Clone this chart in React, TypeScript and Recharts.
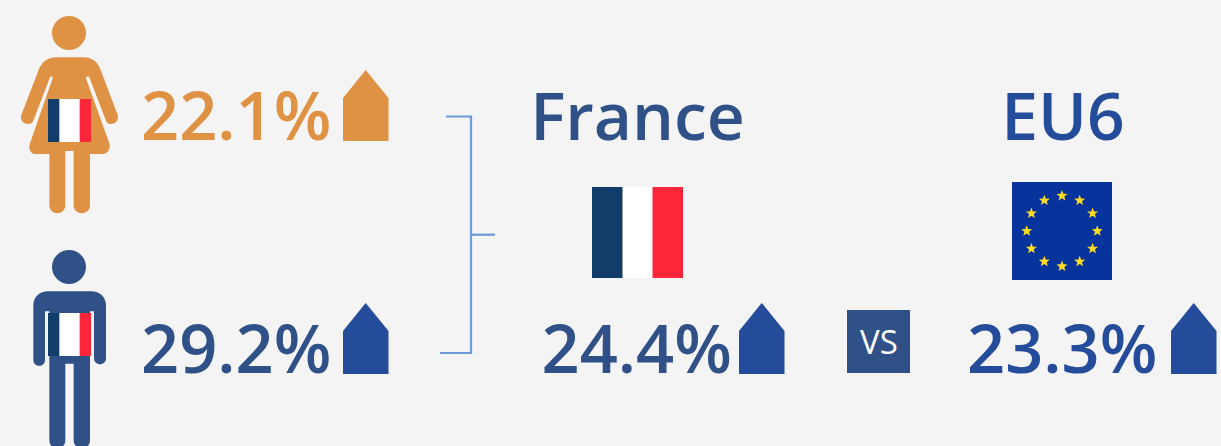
import { Scatter, ScatterChart, XAxis, YAxis } from "recharts";

const groups = ["Women", "Men", "France", "EU6"];
const columns = ["Gender", "France", "EU6"];
const rows = ["Top", "Bottom"];
const groupColumns = ["Gender", "Gender", "France", "EU6"];
const groupRows = ["Top", "Bottom", "Bottom", "Bottom"];
const rates = [22.1, 29.2, 24.4, 23.3];

const chartData = groups.map((group, i) => ({
  group,
  column: groupColumns[i],
  row: groupRows[i],
  rate: rates[i],
}));

const ORANGE = "#e09244";
const NAVY = "#2f5188";
const BLUE = "#244c9a";
const FLAG_BLUE = "#123d6b";
const FLAG_RED = "#fc2638";
const FONT = "'Open Sans', sans-serif";

// tweaks per group, the columns aren't evenly spaced in the original
const textShift: Record<string, number> = { Women: -2, Men: -2, France: -14, EU6: -1 };
const houseShift: Record<string, number> = { Women: 200, Men: 200, France: 183.5, EU6: 203 };
const textColor: Record<string, string> = { Women: ORANGE, Men: NAVY, France: NAVY, EU6: BLUE };
const houseColor: Record<string, string> = { Women: ORANGE, Men: BLUE, France: BLUE, EU6: BLUE };

const womanPath =
  "M170 172 L250 172 C280 172 295 190 302 210 L353 345 C358 362 345 372 333 372 C325 372 320 368 318 362 " +
  "L268 232 C266 227 260 227 258 235 L328 430 C333 448 322 462 308 462 L270 462 L270 615 " +
  "C270 648 221 648 221 615 L221 453 L196 453 L196 615 C196 648 148 648 148 615 L148 462 L105 462 " +
  "C92 462 84 448 90 430 L158 235 C157 227 152 227 150 232 L100 362 C98 368 92 372 84 372 " +
  "C72 372 59 362 64 345 L116 210 C123 190 140 172 170 172 Z";

const manPath =
  "M145 205 L273 205 C300 205 318 222 318 248 L318 405 C318 430 282 430 282 405 L282 265 L270 265 " +
  "L270 650 C270 686 221 686 221 650 L221 422 L196 422 L196 650 C196 686 148 686 148 650 L148 265 " +
  "L135 265 L135 410 C135 434 100 434 100 410 L100 248 C100 222 118 205 145 205 Z";

const TriFlag = ({ x, y, size, stripe }: { x: number; y: number; size: number; stripe: number }) => (
  <g>
    <rect x={x} y={y} width={size} height={size} fill="#ffffff" />
    <rect x={x} y={y} width={stripe} height={size} fill={FLAG_BLUE} />
    <rect x={x + size - stripe} y={y} width={stripe} height={size} fill={FLAG_RED} />
  </g>
);

const starPoints = (cx: number, cy: number, r: number) => {
  const pts = [];
  for (let i = 0; i < 10; i++) {
    const a = (Math.PI / 5) * i - Math.PI / 2;
    const rad = i % 2 === 0 ? r : r * 0.42;
    pts.push(`${cx + rad * Math.cos(a)},${cy + rad * Math.sin(a)}`);
  }
  return pts.join(" ");
};

const EuFlag = () => (
  <g>
    <rect x={1012} y={182} width={100} height={98} fill="#06349c" />
    {Array.from({ length: 12 }).map((_, i) => {
      const a = (Math.PI / 6) * i;
      return (
        <polygon
          key={i}
          points={starPoints(1062 + 35.3 * Math.sin(a), 231 - 35.3 * Math.cos(a), 5.8)}
          fill="#ffdc1e"
        />
      );
    })}
  </g>
);

const renderMark = (props: any) => {
  const { cx, cy, payload } = props;
  const group: string = payload.group;
  const left = cx + houseShift[group];
  return (
    <g>
      {group === "Women" && (
        <g transform={`translate(${cx - 143} ${cy - 140}) scale(${1 / 3})`}>
          <circle cx={207} cy={99} r={51} fill={ORANGE} />
          <path d={womanPath} fill={ORANGE} />
          <TriFlag x={144} y={297} size={129} stripe={34} />
        </g>
      )}
      {group === "Men" && (
        <g transform={`translate(${cx - 143} ${cy - 150}) scale(${1 / 3})`}>
          <circle cx={207} cy={132} r={51} fill={NAVY} />
          <path d={manPath} fill={NAVY} />
          <TriFlag x={144} y={270} size={129} stripe={34} />
        </g>
      )}
      <text
        x={cx + textShift[group]}
        y={cy}
        fontFamily={FONT}
        fontSize={66.7}
        fontWeight={600}
        fill={textColor[group]}
      >
        {`${payload.rate}%`}
      </text>
      <path
        d={`M${left} ${cy + 1} L${left} ${cy - 42} L${left + 22.7} ${cy - 70} L${left + 45.5} ${cy - 42} L${left + 45.5} ${cy + 1} Z`}
        fill={houseColor[group]}
      />
    </g>
  );
};

export default function App() {
  return (
    <div style={{ position: "fixed", left: 0, top: 0, width: 1221, height: 446, background: "#f4f4f4", overflow: "hidden" }}>
      <ScatterChart width={1221} height={446} margin={{ top: 140, right: 253, bottom: 73, left: 143 }}>
        <XAxis type="category" dataKey="column" domain={columns} allowDuplicatedCategory={false} scale="point" hide />
        <YAxis type="category" dataKey="row" domain={rows} allowDuplicatedCategory={false} scale="point" reversed hide />

        {/* bracket linking the two genders to the France figure */}
        <g stroke="#6d9bd8" strokeWidth={2.2} fill="none">
          <path d="M446 116.5 L471 116.5 L471 353 L440 353" />
          <path d="M471 234.7 L495 234.7" />
        </g>

        <text x={637.5} y={140} textAnchor="middle" fontFamily={FONT} fontSize={66} fontWeight={600} fill={NAVY}>
          France
        </text>
        <text x={1063} y={140} textAnchor="middle" fontFamily={FONT} fontSize={66} fontWeight={600} fill={BLUE}>
          EU6
        </text>
        <TriFlag x={592} y={187} size={91} stripe={30.5} />
        <EuFlag />

        <rect x={847} y={310} width={63} height={63} fill={NAVY} />
        <text x={879} y={354} textAnchor="middle" fontFamily={FONT} fontSize={33} fontWeight={500} fill="#ffffff">
          VS
        </text>

        <Scatter data={chartData} shape={renderMark} isAnimationActive={false} />
      </ScatterChart>
    </div>
  );
}
